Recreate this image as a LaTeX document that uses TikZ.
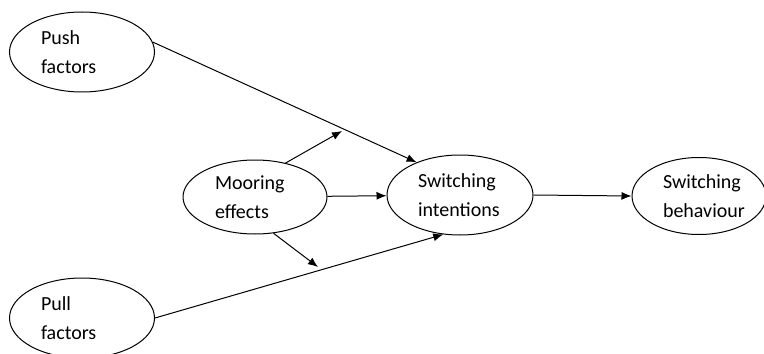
\documentclass[tikz,border=0pt]{standalone}
\usepackage{fontspec}
\setmainfont{Carlito}
\usetikzlibrary{shapes.geometric,arrows.meta}
\begin{document}
\begin{tikzpicture}[x=0.5pt,y=-0.5pt,>={Latex[length=5pt,width=4pt]},
		factor/.style={ellipse,draw,line width=0.5pt,inner sep=0pt,minimum width=72.5pt,minimum height=40pt,align=left,font=\fontsize{10}{14.25}\selectfont}]
		\clip (0,0) rectangle (764,353);

		\draw (82,52) node (push) [factor,text width=41pt] {Push\\factors};
		\draw (82,318) node (pull) [factor,text width=41pt] {Pull\\factors};
		\draw (255,197) node (moor) [factor,minimum width=72pt,minimum height=37pt,text width=40pt] {Mooring\\effects};
		\draw (460,195) node (intent) [factor,minimum width=73pt,text width=42pt] {Switching\\intentions};
		\draw (699,196) node (behav) [factor,minimum width=67pt,minimum height=38.5pt,text width=36pt] {Switching\\behaviour};

		\coordinate (up) at (342,131);
		\coordinate (down) at (318,267);

		\draw[->, line width=0.5pt] (push.8) -- (intent.143);
		\draw[->, line width=0.5pt] (moor.48) -- (up);
		\draw[->, line width=0.5pt] (moor) -- (intent);
		\draw[->, line width=0.5pt] (moor.-63) -- (down);
		\draw[->, line width=0.5pt] (pull.east) -- (intent.247);
		\draw[->, line width=0.5pt] (intent.east) -- (behav.west);
	\end{tikzpicture}
\end{document}
